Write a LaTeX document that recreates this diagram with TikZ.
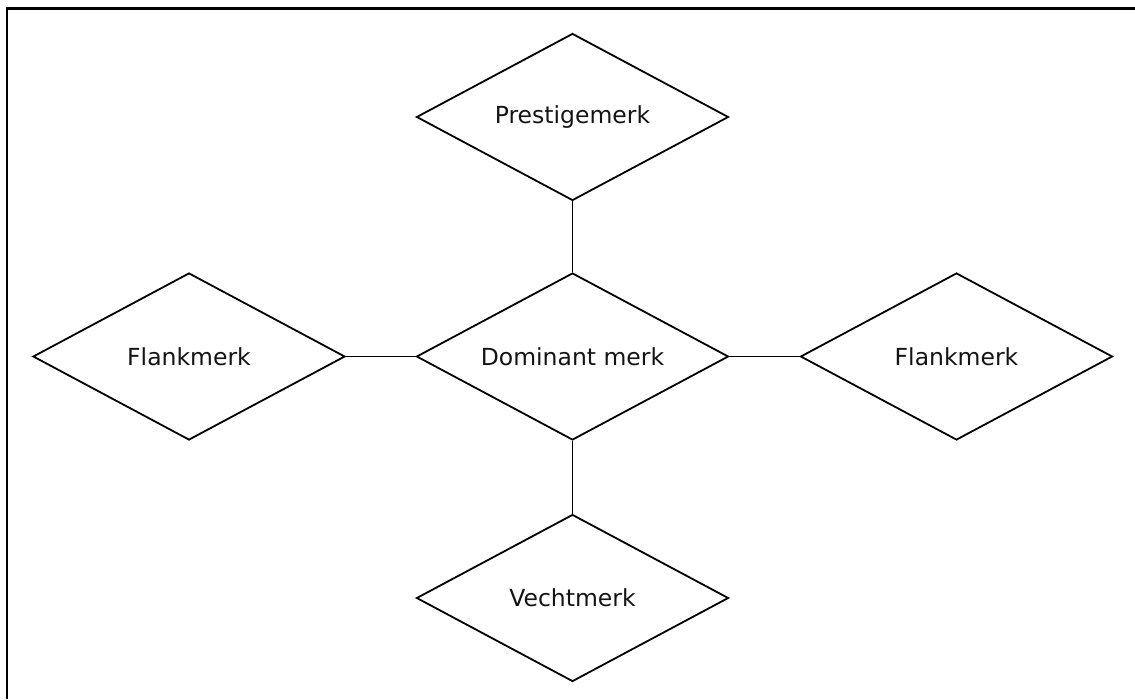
\documentclass[tikz,border=0pt]{standalone}
\usepackage{fontspec}
\setmainfont{DejaVu Sans}
\usetikzlibrary{shapes.geometric}
\begin{document}
\begin{tikzpicture}[x=1pt,y=-1pt,
  merk/.style={draw=black, line width=1.8pt, shape=diamond, inner sep=0pt,
    minimum width=312pt, minimum height=167pt,
    label={[font=\fontsize{23.5}{28}\selectfont, text=black!92, inner sep=0pt]center:#1}},
  link/.style={draw=black, line width=1.8pt}]
  \useasboundingbox (0,0) rectangle (1135,699);
  % outer frame (top and left edges)
  \draw[line width=2.6pt, line join=miter] (7,699) -- (7,8.5) -- (1135,8.5);

  % brand nodes
  \node[merk=Prestigemerk] (prestige) at (572.5,117) {};
  \node[merk=Dominant merk] (dominant) at (572.5,356.5) {};
  \node[merk=Flankmerk] (flankL) at (189,356.5) {};
  \node[merk=Flankmerk] (flankR) at (956.5,356.5) {};
  \node[merk=Vechtmerk] (vecht) at (572.5,598) {};

  % connectors
  \draw[link] (prestige.south) -- (dominant.north);
  \draw[link] (dominant.south) -- (vecht.north);
  \draw[link] (flankL.east) -- (dominant.west);
  \draw[link] (dominant.east) -- (flankR.west);
\end{tikzpicture}
\end{document}
